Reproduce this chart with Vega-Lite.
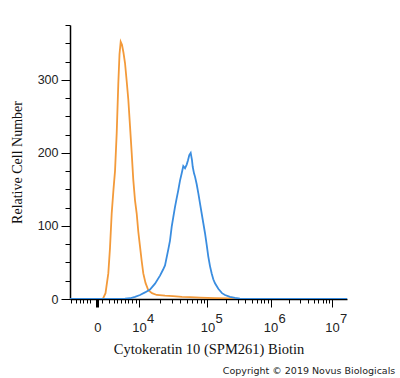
{
  "$schema": "https://vega.github.io/schema/vega-lite/v6.json",
  "autosize": "none",
  "width": 277,
  "height": 274,
  "padding": {"left": 70, "top": 25, "right": 53, "bottom": 79},
  "background": "white",
  "title": {
    "text": "Copyright © 2019 Novus Biologicals",
    "orient": "bottom",
    "anchor": "end",
    "font": "DejaVu Sans",
    "fontSize": 9.5,
    "fontWeight": "normal",
    "color": "#222222",
    "offset": 10,
    "dx": 48
  },
  "config": {"view": {"stroke": null}},
  "encoding": {
    "x": {
      "field": "ch",
      "type": "quantitative",
      "scale": {"domain": [0, 1000], "nice": false, "zero": false},
      "axis": {
        "title": "Cytokeratin 10 (SPM261) Biotin",
        "titleFont": "Liberation Serif",
        "titleFontSize": 14.5,
        "titleFontWeight": "normal",
        "titleColor": "#111111",
        "titlePadding": 8,
        "values": [4.7, 20.6, 35, 48, 60.3, 72.2, 99, 116.6, 140.8, 158.8, 170.8, 185.2, 197.5, 209.4, 225, 237, 249, 323.4, 366.8, 397.7, 421.6, 441.2, 457.7, 472.0, 484.7, 496, 564.6, 604.8, 633.3, 655.4, 673.4, 688.7, 701.9, 713.6, 724, 790.8, 829.9, 857.7, 879.2, 896.7, 911.6, 924.5, 935.8, 946],
        "labelExpr": "datum.value == 99 ? '0' : indexof([249, 496, 724, 946], datum.value) >= 0 ? '10' : ''",
        "labelOverlap": false,
        "labelFlush": false,
        "labelFont": "Liberation Sans",
        "labelFontSize": 13,
        "labelColor": "#222222",
        "labelPadding": 14,
        "labelBaseline": "top",
        "domainColor": "#000000",
        "domainWidth": 1.5,
        "tickColor": "#000000",
        "tickSize": {"condition": {"test": "indexof([99, 249, 496, 724, 946], datum.value) >= 0", "value": 8}, "value": 4},
        "tickWidth": {"condition": {"test": "datum.value == 99", "value": 3}, "value": 1},
        "grid": false
      }
    },
    "y": {
      "field": "count",
      "type": "quantitative",
      "scale": {"domain": [0, 375], "nice": false},
      "axis": {
        "title": "Relative Cell Number",
        "titleFont": "Liberation Serif",
        "titleFontSize": 14,
        "titleFontWeight": "normal",
        "titleColor": "#111111",
        "titlePadding": 13,
        "values": [0, 25, 50, 75, 100, 125, 150, 175, 200, 225, 250, 275, 300, 325, 350, 375],
        "labelExpr": "datum.value % 100 == 0 ? datum.label : ''",
        "labelFont": "Liberation Sans",
        "labelFontSize": 12.5,
        "labelColor": "#222222",
        "labelPadding": 3,
        "labelOverlap": false,
        "domainColor": "#000000",
        "domainWidth": 1.5,
        "tickColor": "#000000",
        "tickSize": {"condition": {"test": "datum.value % 100 == 0", "value": 9}, "value": 5},
        "grid": false
      }
    }
  },
  "layer": [
    {
      "data": {
        "values": [
          {"s": "Isotype", "ch": 90.3, "count": 0},
          {"s": "Isotype", "ch": 119.1, "count": 0.5},
          {"s": "Isotype", "ch": 128.2, "count": 8},
          {"s": "Isotype", "ch": 138.3, "count": 35},
          {"s": "Isotype", "ch": 144.4, "count": 70},
          {"s": "Isotype", "ch": 150.5, "count": 117},
          {"s": "Isotype", "ch": 157.0, "count": 150},
          {"s": "Isotype", "ch": 162.5, "count": 175},
          {"s": "Isotype", "ch": 168.6, "count": 227},
          {"s": "Isotype", "ch": 174.4, "count": 295},
          {"s": "Isotype", "ch": 178.7, "count": 335},
          {"s": "Isotype", "ch": 183.0, "count": 352},
          {"s": "Isotype", "ch": 187.7, "count": 348},
          {"s": "Isotype", "ch": 193.1, "count": 337},
          {"s": "Isotype", "ch": 198.6, "count": 323},
          {"s": "Isotype", "ch": 204.7, "count": 298},
          {"s": "Isotype", "ch": 210.5, "count": 273},
          {"s": "Isotype", "ch": 216.6, "count": 237},
          {"s": "Isotype", "ch": 222.7, "count": 200},
          {"s": "Isotype", "ch": 228.5, "count": 163},
          {"s": "Isotype", "ch": 234.7, "count": 135},
          {"s": "Isotype", "ch": 240.8, "count": 117},
          {"s": "Isotype", "ch": 246.6, "count": 92},
          {"s": "Isotype", "ch": 252.7, "count": 72},
          {"s": "Isotype", "ch": 258.8, "count": 52},
          {"s": "Isotype", "ch": 264.6, "count": 35},
          {"s": "Isotype", "ch": 272.6, "count": 22},
          {"s": "Isotype", "ch": 282.7, "count": 12},
          {"s": "Isotype", "ch": 296.0, "count": 8},
          {"s": "Isotype", "ch": 313.0, "count": 5.5},
          {"s": "Isotype", "ch": 343.0, "count": 4.5},
          {"s": "Isotype", "ch": 371.8, "count": 4},
          {"s": "Isotype", "ch": 404.3, "count": 3},
          {"s": "Isotype", "ch": 433.2, "count": 2.5},
          {"s": "Isotype", "ch": 469.3, "count": 2},
          {"s": "Isotype", "ch": 523.5, "count": 1.2},
          {"s": "Isotype", "ch": 577.6, "count": 0.8},
          {"s": "Isotype", "ch": 613.7, "count": 0.3},
          {"s": "Isotype", "ch": 649.8, "count": 0},
          {"s": "Isotype", "ch": 1000, "count": 0}
        ]
      },
      "mark": {"type": "line", "color": "#f39a3a", "strokeWidth": 1.8, "clip": true}
    },
    {
      "data": {
        "values": [
          {"s": "CK10", "ch": 0, "count": 0},
          {"s": "CK10", "ch": 162.5, "count": 0},
          {"s": "CK10", "ch": 198.6, "count": 0.5},
          {"s": "CK10", "ch": 216.6, "count": 1},
          {"s": "CK10", "ch": 234.7, "count": 3},
          {"s": "CK10", "ch": 252.7, "count": 5.5},
          {"s": "CK10", "ch": 270.8, "count": 9},
          {"s": "CK10", "ch": 288.8, "count": 13},
          {"s": "CK10", "ch": 306.9, "count": 21},
          {"s": "CK10", "ch": 324.9, "count": 32},
          {"s": "CK10", "ch": 335.7, "count": 40},
          {"s": "CK10", "ch": 343.0, "count": 46},
          {"s": "CK10", "ch": 354.9, "count": 68},
          {"s": "CK10", "ch": 361.0, "count": 80},
          {"s": "CK10", "ch": 367.2, "count": 99},
          {"s": "CK10", "ch": 372.9, "count": 112},
          {"s": "CK10", "ch": 379.1, "count": 126},
          {"s": "CK10", "ch": 385.2, "count": 138},
          {"s": "CK10", "ch": 391.0, "count": 149},
          {"s": "CK10", "ch": 397.1, "count": 162},
          {"s": "CK10", "ch": 403.3, "count": 172},
          {"s": "CK10", "ch": 409.0, "count": 182},
          {"s": "CK10", "ch": 415.2, "count": 179},
          {"s": "CK10", "ch": 421.3, "count": 184},
          {"s": "CK10", "ch": 426.0, "count": 190},
          {"s": "CK10", "ch": 430.7, "count": 197},
          {"s": "CK10", "ch": 435.7, "count": 200},
          {"s": "CK10", "ch": 440.4, "count": 190},
          {"s": "CK10", "ch": 443.0, "count": 181},
          {"s": "CK10", "ch": 447.7, "count": 172},
          {"s": "CK10", "ch": 451.3, "count": 167.5},
          {"s": "CK10", "ch": 457.4, "count": 157},
          {"s": "CK10", "ch": 463.2, "count": 145},
          {"s": "CK10", "ch": 469.3, "count": 131},
          {"s": "CK10", "ch": 475.4, "count": 117},
          {"s": "CK10", "ch": 481.2, "count": 104},
          {"s": "CK10", "ch": 487.4, "count": 90},
          {"s": "CK10", "ch": 493.5, "count": 74},
          {"s": "CK10", "ch": 499.3, "count": 58},
          {"s": "CK10", "ch": 505.4, "count": 45},
          {"s": "CK10", "ch": 511.5, "count": 35},
          {"s": "CK10", "ch": 517.3, "count": 27},
          {"s": "CK10", "ch": 523.5, "count": 21.5},
          {"s": "CK10", "ch": 535.4, "count": 14},
          {"s": "CK10", "ch": 548.7, "count": 8},
          {"s": "CK10", "ch": 559.6, "count": 5.5},
          {"s": "CK10", "ch": 577.6, "count": 3},
          {"s": "CK10", "ch": 595.7, "count": 1.5},
          {"s": "CK10", "ch": 613.7, "count": 0.5},
          {"s": "CK10", "ch": 649.8, "count": 0},
          {"s": "CK10", "ch": 1000, "count": 0}
        ]
      },
      "mark": {"type": "line", "color": "#3a8de0", "strokeWidth": 1.8, "clip": true}
    },
    {
      "data": {
        "values": [
          {"ch": 249, "count": 0, "exp": "4"},
          {"ch": 496, "count": 0, "exp": "5"},
          {"ch": 724, "count": 0, "exp": "6"},
          {"ch": 946, "count": 0, "exp": "7"}
        ]
      },
      "mark": {"type": "text", "align": "left", "baseline": "top", "dx": 8, "dy": 14, "font": "Liberation Sans", "fontSize": 13, "color": "#222222"},
      "encoding": {"text": {"field": "exp", "type": "nominal"}}
    }
  ]
}
